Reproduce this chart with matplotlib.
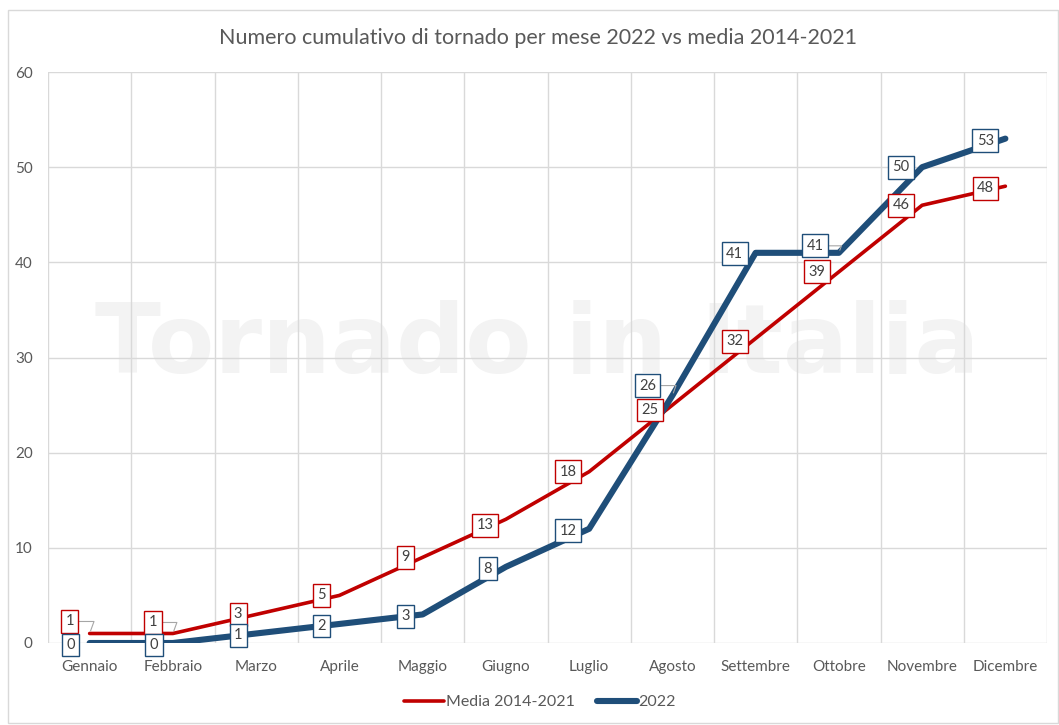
import numpy as np
import matplotlib
matplotlib.use("Agg")
import matplotlib.pyplot as plt
from matplotlib.patches import Rectangle

# --- data -------------------------------------------------------------
mesi = ["Gennaio", "Febbraio", "Marzo", "Aprile", "Maggio", "Giugno",
        "Luglio", "Agosto", "Settembre", "Ottobre", "Novembre", "Dicembre"]
media_2014_2021 = [1, 1, 3, 5, 9, 13, 18, 25, 32, 39, 46, 48]
anno_2022 = [0, 0, 1, 2, 3, 8, 12, 26, 41, 41, 50, 53]
y_ticks = [0, 10, 20, 30, 40, 50, 60]

# --- label placement (pixel offsets from each point) ------------------
off_media = [(-20, 12), (-20, 11), (-18, 0), (-18, 0), (-17, 0), (-21, -6),
             (-21, 0), (-22, -5), (-21, -3), (-22, 0), (-21, 0), (-20, -2)]
off_2022 = [(-19, -2), (-19, -2), (-18, -2), (-18, -2), (-17, -2), (-18, -2),
            (-21, -2), (-25, 10), (-21, -1), (-24, 7), (-21, 0), (-20, -2)]
leader_media = {0, 1}
leader_2022 = {7, 9}

RED = "#C00000"
BLUE = "#1F4E79"
GRID = "#D9D9D9"
TXT = "#595959"
FONT = ["Lato", "DejaVu Sans"]
plt.rcParams["font.family"] = FONT

W, H = 1059, 725
fig = plt.figure(figsize=(W / 100, H / 100), dpi=100)
fig.patch.set_facecolor("white")

# outer chart border
fig.add_artist(Rectangle((8 / W, 2 / H), 1050 / W, 713 / H, transform=fig.transFigure,
                         fill=False, ec=GRID, lw=1))

ax = fig.add_axes([48 / W, 82 / H, 999 / W, 571 / H])
x = np.arange(len(mesi))
ax.set_xlim(-0.5, len(mesi) - 0.5)
ax.set_ylim(0, 60)

# faint watermark
wm = ax.text(0.49, 0.52, "Tornado in Italia", transform=ax.transAxes,
             ha="center", va="center", fontsize=80, fontweight="bold",
             family=["DejaVu Sans"], color="#F3F3F3", zorder=0)
fig.canvas.draw()
bb = wm.get_window_extent()
wm.set_fontsize(80 * 885 / bb.width)

for s in ax.spines.values():
    s.set_visible(False)
ax.set_yticks(y_ticks)
ax.set_xticks(x)
ax.set_xticklabels(mesi)
ax.set_xticks(np.arange(-0.5, len(mesi), 1), minor=True)
ax.grid(axis="y", which="major", color=GRID, lw=1, zorder=1)
ax.grid(axis="x", which="minor", color=GRID, lw=1, zorder=1)
ax.tick_params(axis="both", which="both", length=0, colors=TXT, labelsize=11)
ax.tick_params(axis="y", pad=11)
ax.tick_params(axis="x", pad=12.5)

l1, = ax.plot(x, media_2014_2021, color=RED, lw=2.6, solid_capstyle="round",
              solid_joinstyle="round", zorder=3, label="Media 2014-2021")
l2, = ax.plot(x, anno_2022, color=BLUE, lw=4.4, solid_capstyle="round",
              solid_joinstyle="round", zorder=4, label="2022")


def etichette(vals, offs, color, leaders, z):
    for i, v in enumerate(vals):
        dx, dy = offs[i]
        ap = None
        if i in leaders:
            ap = dict(arrowstyle="-", color="#A6A6A6", lw=0.8,
                      shrinkA=0, shrinkB=2, connectionstyle="angle,angleA=0,angleB=70,rad=0")
        ax.annotate(f"{v}", (x[i], v), xytext=(dx, dy), textcoords="offset pixels",
                    ha="center", va="center", fontsize=10.5, color="#404040",
                    bbox=dict(boxstyle="square,pad=0.3", fc="white", ec=color, lw=1),
                    arrowprops=ap, zorder=z, annotation_clip=False)


etichette(media_2014_2021, off_media, RED, leader_media, 5)
etichette(anno_2022, off_2022, BLUE, leader_2022, 6)

fig.text(0.508, 1 - 38 / H, "Numero cumulativo di tornado per mese 2022 vs media 2014-2021",
         ha="center", va="center", fontsize=15.5, color=TXT)

fig.legend(handles=[l1, l2], loc="center", bbox_to_anchor=(0.51, 1 - 702 / H), ncol=2,
           frameon=False, fontsize=11.5, handlelength=2.5, handletextpad=0.1,
           columnspacing=1.4, labelcolor=TXT)

fig.savefig("out.png", dpi=100, facecolor="white")
